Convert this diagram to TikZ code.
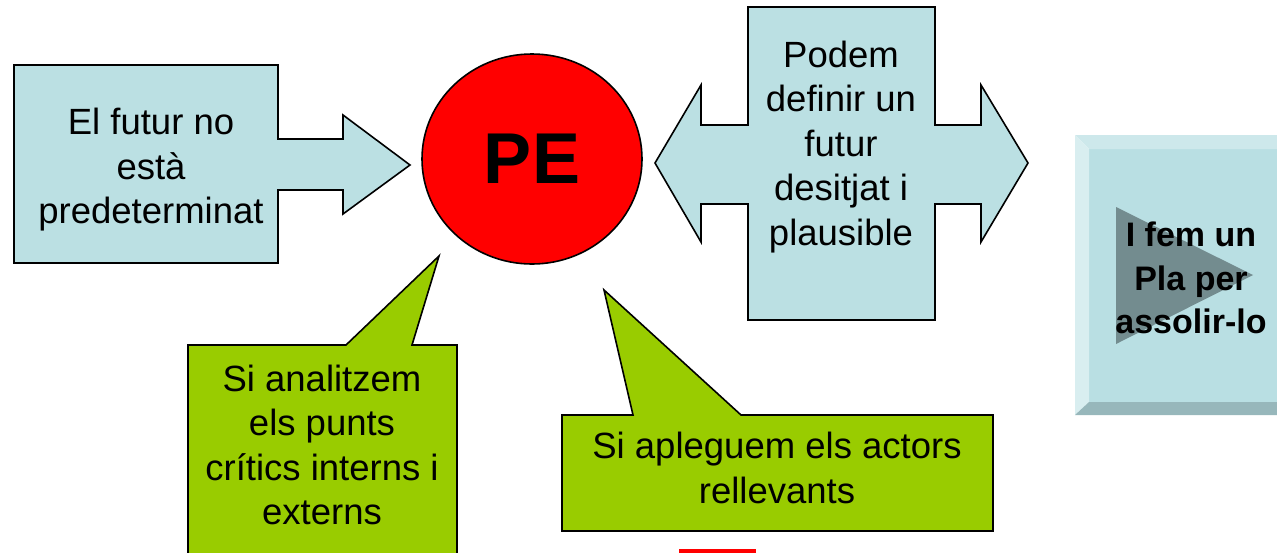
\documentclass[tikz,border=0pt]{standalone}
\usepackage{fontspec}
\setmainfont{Liberation Sans}
\usetikzlibrary{shapes.geometric}
\definecolor{pblue}{HTML}{BBE0E3}
\definecolor{pgreen}{HTML}{99CC00}
\definecolor{btnface}{HTML}{B9DFE3}
\definecolor{btntop}{HTML}{CDE8EB}
\definecolor{btnleft}{HTML}{D9EEF0}
\definecolor{btnbot}{HTML}{97B7BB}
\definecolor{btntri}{HTML}{738C8F}
\tikzset{outl/.style = {draw, line width = 1.6pt, line join = miter},
  bluesh/.style = {outl, fill = pblue},
  greensh/.style = {outl, fill = pgreen},
  txt/.style = {align = center, inner sep = 0, font = \fontsize{36.5}{44.5}\selectfont}}

\begin{document}
\begin{tikzpicture}[x = 1pt, y = -1pt]
    \useasboundingbox (0, 0) rectangle (1277, 552);
    \clip (0, 0) rectangle (1277, 552);

    \draw [bluesh] (14, 65) -- (278, 65) -- (278, 139) -- (343, 139) -- (343, 115)
    -- (410, 165) -- (343, 214) -- (343, 190) -- (278, 190) -- (278, 263)
    -- (14, 263) -- cycle;
    \node (futur) [txt] at (151, 170) {El futur no\\està\\predeterminat};

    \node (pe) [ellipse, outl, fill = red, inner sep = 0, minimum width = 220, minimum height = 210,
      font = \fontsize{72}{72}\selectfont\bfseries] at (532, 159) {PE};

    \draw [bluesh] (748, 7) -- (935, 7) -- (935, 125) -- (981, 125) -- (981, 85)
    -- (1028, 163) -- (981, 242) -- (981, 204) -- (935, 204) -- (935, 320)
    -- (748, 320) -- (748, 204) -- (701, 204) -- (701, 242) -- (655, 163)
    -- (701, 85) -- (701, 125) -- (748, 125) -- cycle;
    \node (desitjat) [txt] at (841, 147) {Podem\\definir un\\futur\\desitjat i\\plausible};

    \fill [btnface] (1089, 149) rectangle (1290, 402);
    \fill [btntop] (1075, 135) -- (1290, 135) -- (1290, 149) -- (1089, 149) -- cycle;
    \fill [btnleft] (1075, 135) -- (1089, 149) -- (1089, 402) -- (1075, 415) -- cycle;
    \fill [btnbot] (1075, 415) -- (1089, 402) -- (1290, 402) -- (1290, 415) -- cycle;
    \fill [btntri] (1116, 207) -- (1253, 275) -- (1116, 344) -- cycle;
    \node (pla) [txt, font = \fontsize{34}{43.5}\selectfont\bfseries] at (1191, 278)
    {I fem un\\Pla per\\assolir-lo};

    \draw [greensh] (188, 345) -- (346, 345) -- (439, 256) -- (412, 345) -- (457, 345)
    -- (457, 570) -- (188, 570) -- cycle;
    \node (analitzem) [txt] at (322, 445) {Si analitzem\\els punts\\crítics interns i\\externs};

    \draw [greensh] (562, 415) -- (633, 415) -- (604, 290) -- (741, 415) -- (993, 415)
    -- (993, 531) -- (562, 531) -- cycle;
    \node (actors) [txt] at (777, 468) {Si apleguem els actors\\rellevants};

    \fill [red] (679, 549) rectangle (756, 560);
  \end{tikzpicture}
\end{document}
